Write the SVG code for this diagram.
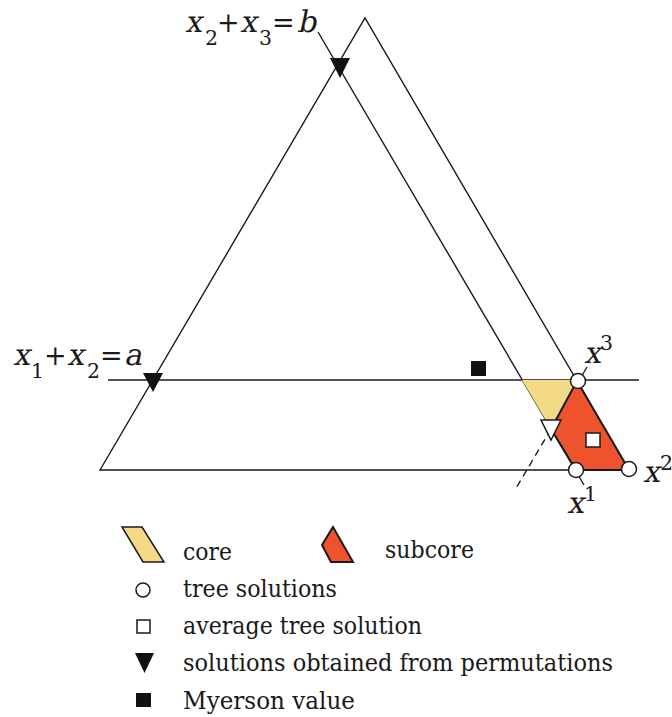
<svg xmlns="http://www.w3.org/2000/svg" width="672" height="717" viewBox="0 0 672 717">
<style>
.ln{fill:none;stroke:#1a1a1a;stroke-width:1.4}
.mt{font-family:'DejaVu Serif','Liberation Serif',serif;fill:#1a1a1a}
.it{font-size:30px}
.sb{font-size:20.5px}
.op{font-size:27px}
.lg{font-family:'DejaVu Serif','Liberation Serif',serif;font-size:25px;fill:#1a1a1a}
.core{fill:#F4DA87}
.sub{fill:#EE532E;stroke:#1a1a1a;stroke-width:2}
.pt{fill:#fff;stroke:#1a1a1a;stroke-width:1.5}
.blk{fill:#111}
</style>
<g id="connectors">
<polygon id="simplex" class="ln" points="100,470 365,18 629,470"/>
<line class="ln" x1="108" y1="380" x2="639" y2="380"/>
<line class="ln" x1="318" y1="32" x2="584" y2="485"/>
<line class="ln" x1="587" y1="367" x2="551" y2="429"/>
<line class="ln" x1="551" y1="429" x2="515" y2="490" stroke-dasharray="7,5"/>
</g>
<g id="core">
<polygon class="core" points="522,380 578,380 551,429"/>
</g>
<g id="subcore">
<polygon class="sub" points="577,381 629,470 576,470 551,429"/>
</g>
<g id="perm-b"><polygon class="blk" points="330,58 350,58 340,78"/></g>
<g id="perm-a"><polygon class="blk" points="143,373 163,373 153,392"/></g>
<g id="perm-core"><polygon class="pt" points="541,420 561,420 551,440"/></g>
<g id="myerson"><rect class="blk" x="471" y="361" width="15" height="15"/></g>
<g id="avg-tree"><rect class="pt" x="586" y="433" width="14" height="14"/></g>
<g id="x3"><circle class="pt" cx="578" cy="381" r="7.5"/>
<text class="mt it" x="584" y="363" transform="matrix(1,0,-0.21,1,76.23,0)">x</text>
<text class="mt sb" x="600" y="350">3</text></g>
<g id="x1"><circle class="pt" cx="576" cy="470" r="7.5"/>
<text class="mt it" x="567" y="513" transform="matrix(1,0,-0.21,1,107.73,0)">x</text>
<text class="mt sb" x="584" y="501">1</text></g>
<g id="x2"><circle class="pt" cx="629" cy="469" r="7.5"/>
<text class="mt it" x="643" y="482" transform="matrix(1,0,-0.21,1,101.22,0)">x</text>
<text class="mt sb" x="660" y="470">2</text></g>
<g id="label-a">
<text class="mt it" x="13" y="365" transform="matrix(1,0,-0.21,1,76.65,0)">x</text>
<text class="mt sb" x="31" y="378">1</text>
<text class="mt op" x="44" y="365">+</text>
<text class="mt it" x="67" y="365" transform="matrix(1,0,-0.21,1,76.65,0)">x</text>
<text class="mt sb" x="87" y="378">2</text>
<text class="mt op" x="100" y="365">=</text>
<text class="mt it" x="124" y="365" transform="matrix(1,0,-0.21,1,76.65,0)">a</text>
</g>
<g id="label-b">
<text class="mt it" x="185" y="32" transform="matrix(1,0,-0.21,1,6.72,0)">x</text>
<text class="mt sb" x="205" y="45">2</text>
<text class="mt op" x="217" y="32">+</text>
<text class="mt it" x="240" y="32" transform="matrix(1,0,-0.21,1,6.72,0)">x</text>
<text class="mt sb" x="259" y="45">3</text>
<text class="mt op" x="272" y="32">=</text>
<text class="mt it" x="297" y="32" transform="matrix(1,0,-0.21,1,6.72,0)">b</text>
</g>
<g id="legend">
<polygon class="core" stroke="#1a1a1a" stroke-width="1.5" points="122,527 142,527 164,562 143,562"/>
<text class="lg" x="183" y="560" textLength="49" lengthAdjust="spacingAndGlyphs">core</text>
<polygon class="sub" stroke-width="1.5" points="333,527 353,562 331,562 322,545"/>
<text class="lg" x="385" y="558" textLength="89" lengthAdjust="spacingAndGlyphs">subcore</text>
<circle class="pt" cx="143" cy="590" r="7"/>
<text class="lg" x="183" y="597" textLength="154" lengthAdjust="spacingAndGlyphs">tree solutions</text>
<rect class="pt" x="137" y="620" width="13" height="13"/>
<text class="lg" x="183" y="634" textLength="239" lengthAdjust="spacingAndGlyphs">average tree solution</text>
<polygon class="blk" points="135,653 154,653 144.5,673"/>
<text class="lg" x="183" y="671" textLength="430" lengthAdjust="spacingAndGlyphs">solutions obtained from permutations</text>
<rect class="blk" x="136" y="693" width="15" height="14"/>
<text class="lg" x="183" y="709" textLength="172" lengthAdjust="spacingAndGlyphs">Myerson value</text>
</g>
</svg>
